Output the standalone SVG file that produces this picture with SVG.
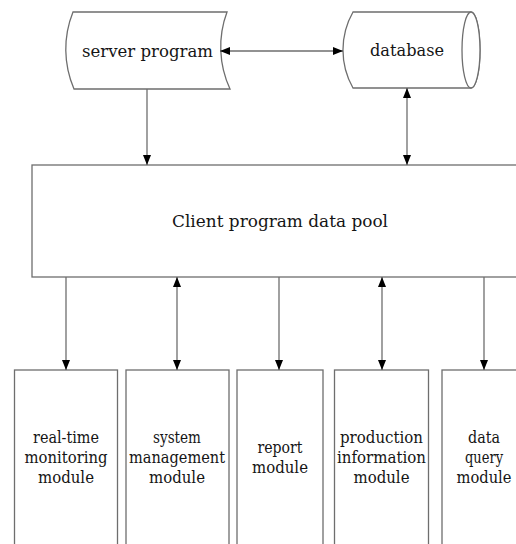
<svg xmlns="http://www.w3.org/2000/svg" width="516" height="544" viewBox="0 0 516 544">
<defs>
<marker id="ah" viewBox="0 0 10 8" refX="10" refY="4" markerWidth="10" markerHeight="8" markerUnits="userSpaceOnUse" orient="auto-start-reverse">
<path d="M0,0 L10,4 L0,8 Z" fill="#000"/>
</marker>
<style>
.shape{fill:#fff;stroke:#6e6e6e;stroke-width:1.3}
.conn{fill:none;stroke:#6e6e6e;stroke-width:1.3}
text{font-family:"DejaVu Serif",serif;fill:#151515;text-anchor:middle}
.big{font-size:17.5px}
.mod{font-size:16px}
</style>
</defs>
<rect width="516" height="544" fill="#fff"/>
<g id="server">
<path class="shape" d="M73,12 L227,12 A100,100 0 0 0 230,89 L74,89 A100,100 0 0 1 73,12 Z"/>
<text class="big" x="147.5" y="57" textLength="131" lengthAdjust="spacingAndGlyphs">server program</text>
</g>
<g id="database">
<path class="shape" d="M353,12 L471,12 A9,38 0 0 1 471,88 L353,88 A77,77 0 0 1 353,12 Z"/>
<ellipse class="shape" cx="471" cy="50" rx="9" ry="38"/>
<text class="big" x="407" y="56" textLength="74" lengthAdjust="spacingAndGlyphs">database</text>
</g>
<g id="pool">
<rect class="shape" x="32" y="165" width="490" height="112"/>
<text class="big" x="280" y="227" textLength="216" lengthAdjust="spacingAndGlyphs">Client program data pool</text>
</g>
<g id="m1">
<rect class="shape" x="14.5" y="370" width="103" height="180"/>
<text class="mod" x="66" y="443" textLength="66" lengthAdjust="spacingAndGlyphs">real-time</text>
<text class="mod" x="66" y="463" textLength="83" lengthAdjust="spacingAndGlyphs">monitoring</text>
<text class="mod" x="66" y="483" textLength="56" lengthAdjust="spacingAndGlyphs">module</text>
</g>
<g id="m2">
<rect class="shape" x="126" y="370" width="103" height="180"/>
<text class="mod" x="177" y="443" textLength="48" lengthAdjust="spacingAndGlyphs">system</text>
<text class="mod" x="177" y="463" textLength="96" lengthAdjust="spacingAndGlyphs">management</text>
<text class="mod" x="177" y="483" textLength="56" lengthAdjust="spacingAndGlyphs">module</text>
</g>
<g id="m3">
<rect class="shape" x="237" y="370" width="86" height="180"/>
<text class="mod" x="280" y="453" textLength="45" lengthAdjust="spacingAndGlyphs">report</text>
<text class="mod" x="280" y="473" textLength="56" lengthAdjust="spacingAndGlyphs">module</text>
</g>
<g id="m4">
<rect class="shape" x="334.5" y="370" width="94" height="180"/>
<text class="mod" x="381.5" y="443" textLength="83" lengthAdjust="spacingAndGlyphs">production</text>
<text class="mod" x="381.5" y="463" textLength="89" lengthAdjust="spacingAndGlyphs">information</text>
<text class="mod" x="381.5" y="483" textLength="56" lengthAdjust="spacingAndGlyphs">module</text>
</g>
<g id="m5">
<rect class="shape" x="442" y="370" width="90" height="180"/>
<text class="mod" x="484" y="443" textLength="32" lengthAdjust="spacingAndGlyphs">data</text>
<text class="mod" x="484" y="463" textLength="38" lengthAdjust="spacingAndGlyphs">query</text>
<text class="mod" x="484" y="483" textLength="55" lengthAdjust="spacingAndGlyphs">module</text>
</g>
<g id="connectors">
<line class="conn" x1="220" y1="51" x2="343" y2="51" marker-start="url(#ah)" marker-end="url(#ah)"/>
<line class="conn" x1="147" y1="89" x2="147" y2="165" marker-end="url(#ah)"/>
<line class="conn" x1="407" y1="88" x2="407" y2="165" marker-start="url(#ah)" marker-end="url(#ah)"/>
<line class="conn" x1="66" y1="277" x2="66" y2="370" marker-end="url(#ah)"/>
<line class="conn" x1="177" y1="277" x2="177" y2="370" marker-start="url(#ah)" marker-end="url(#ah)"/>
<line class="conn" x1="279" y1="277" x2="279" y2="370" marker-end="url(#ah)"/>
<line class="conn" x1="382" y1="277" x2="382" y2="370" marker-start="url(#ah)" marker-end="url(#ah)"/>
<line class="conn" x1="484" y1="277" x2="484" y2="370" marker-end="url(#ah)"/>
</g>
</svg>
